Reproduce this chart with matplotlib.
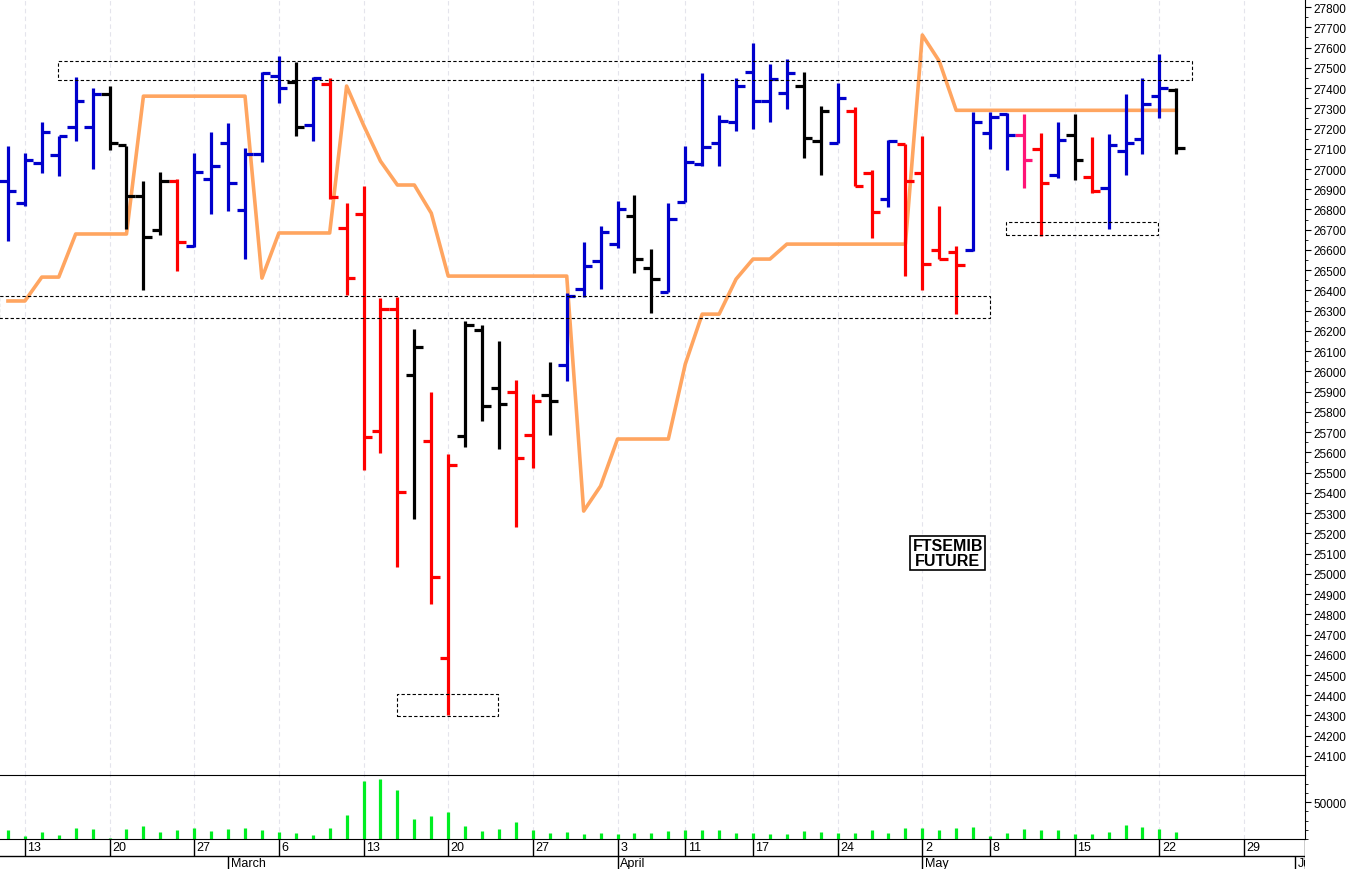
import matplotlib
matplotlib.use("Agg")
import matplotlib.pyplot as plt
from matplotlib.patches import Rectangle
from matplotlib.ticker import MultipleLocator, FixedLocator
import pandas as pd
import numpy as np

plt.rcParams['font.family'] = ['Liberation Sans', 'DejaVu Sans']

opens = [26939,26832,27029,27069,27210,27210,27370,27118,26865,26700,
         26939,26618,26950,27128,26797,27074,27461,27428,27217,27420,
         26708,26780,25708,26306,25983,25658,24582,25682,26205,25918,
         25897,25687,25882,26031,26408,26548,26629,26766,26509,26393,
         26838,27024,27131,27233,27477,27337,27375,27408,27136,27131,
         27288,26978,26851,27123,26980,26601,26591,26602,27176,27270,
         27168,27100,26970,27168,26960,26907,27089,27146,27361,27389]
highs = [27115,27079,27234,27164,27453,27398,27408,27115,26942,26986,
         26950,27079,27184,27227,27102,27477,27560,27530,27457,27449,
         26833,26914,26363,26369,26211,25897,25592,26247,26229,26148,
         25960,25888,26046,26385,26641,26718,26843,26871,26607,26831,
         27115,27472,27266,27452,27625,27518,27543,27480,27312,27423,
         27304,26996,27143,27123,27161,26815,26621,27283,27283,27279,
         27274,27176,27232,27270,27158,27171,27369,27452,27567,27402]
lows = [26642,26815,26980,26967,27136,27000,27095,26703,26404,26675,
        26494,26613,26777,26791,26555,27033,27326,27164,27136,26851,
        26378,25511,25595,25032,25269,24853,24300,25628,25757,25619,
        25233,25524,25687,25951,26367,26405,26609,26484,26291,26390,
        26838,27013,27016,27189,27200,27230,27296,27052,26970,27128,
        26917,26657,26810,26473,26403,26555,26283,26593,27100,26995,
        26907,26671,26957,26945,26882,26706,26970,27075,27250,27075]
closes = [26889,27044,27181,27164,27334,27370,27128,26865,26662,26939,
          26637,26983,27016,26931,27074,27474,27398,27209,27449,26860,
          26462,25676,26306,25403,26121,24986,25538,26229,25829,25839,
          25574,25852,25852,26372,26519,26690,26802,26555,26456,26752,
          27037,27111,27235,27408,27337,27444,27474,27153,27288,27353,
          26917,26789,27139,26942,26530,26555,26525,27234,27257,27168,
          27047,26932,27143,27047,26891,27118,27130,27323,27399,27105]
bar_colors = list("bbbbbbkkkkrbbbbbbkbrrrrrkrrkkkrrkbbbbkkbbbbbbbbkkbrrbrrrrbbbprbkrbbbbk")
stop_line = [26348,26348,26466,26466,26679,26679,26679,26679,27360,27360,
             27360,27360,27360,27360,27360,26461,26684,26684,26684,26684,
             27410,27217,27039,26921,26921,26782,26471,26471,26471,26471,
             26471,26471,26471,26471,25310,25434,25666,25666,25666,25666,
             26036,26283,26283,26456,26555,26555,26629,26629,26629,26629,
             26629,26629,26629,26629,27662,27533,27290,27290,27290,27290,
             27290,27290,27290,27290,27290,27290,27290,27290,27290,27290]
volumes = [19570,13050,17760,14860,21740,21020,11230,20650,23910,17390,
           19570,21740,18840,21020,21740,19570,17760,16310,14860,22470,
           36230,73190,75360,63400,31880,35150,39490,24280,18480,20650,
           28620,19570,16670,17760,15220,16670,15580,16310,16670,18840,
           19570,19930,19570,16670,16670,15220,15580,18480,17760,16670,
           16670,19570,16670,21740,21740,19570,21740,22830,13410,16670,
           20650,19570,19570,15580,15220,17390,25360,22830,20650,18120]
# zones: (start index, end index, low price, high price)
zones = [(2.95, 69.95, 27439, 27533), (-0.5, 57.97, 26264, 26372),
         (22.96, 28.93, 24297, 24406), (58.97, 67.9, 26674, 26738)]

holidays = pd.to_datetime(["2023-04-07", "2023-04-10", "2023-05-01", "2023-06-02"])
days = pd.bdate_range("2023-02-10", "2023-06-20")
days = days[~days.isin(holidays)]
n = len(opens)
x = np.arange(n)

cmap = {'b': '#0000CC', 'r': '#FF0000', 'k': '#000000', 'p': '#FF1477'}
cols = [cmap[c] for c in bar_colors]

W, H = 1352, 870
fig = plt.figure(figsize=(W/100, H/100), dpi=100)
right = 1305 / W
ax = fig.add_axes([0, (H-776)/H, right, 776/H])
axv = fig.add_axes([0, (H-840)/H, right, 64/H], sharex=ax)
axl = fig.add_axes([0, 0, right, 30/H], sharex=ax)

xmin, xmax = -0.47, 76.6
ax.set_xlim(xmin, xmax)

week_pos, week_lab = [], []
month_pos, month_lab = [], []
prev = None
for i, d in enumerate(days):
    if i == 0:
        prev = d
        continue
    if d.isocalendar()[1] != prev.isocalendar()[1]:
        week_pos.append(i); week_lab.append(str(d.day))
    if d.month != prev.month:
        month_pos.append(i); month_lab.append(d.strftime("%B"))
    prev = d
week_pos = [p for p in week_pos if p < xmax]
week_lab = week_lab[:len(week_pos)]
month_pos = [p for p in month_pos if p < xmax]
month_lab = month_lab[:len(month_pos)]

for a in (ax, axv):
    for p in week_pos:
        a.axvline(p, color='#e4e4ec', lw=0.8, ls=(0, (4, 3)), zorder=0)

ax.vlines(x, lows, highs, colors=cols, lw=2.3, zorder=3)
ax.hlines(opens, x - 0.5, x, colors=cols, lw=2.3, zorder=3)
ax.hlines(closes, x, x + 0.5, colors=cols, lw=2.3, zorder=3)
ax.plot(x, stop_line, color='#FFA560', lw=2.6, zorder=2)

for (x0, x1, y0, y1) in zones:
    ax.add_patch(Rectangle((x0, y0), x1 - x0, y1 - y0, fill=False, ec='black',
                           lw=0.8, ls=(0, (3, 2)), zorder=4))

ax.text(55.5, 25103, "FTSEMIB\nFUTURE", ha='center', va='center', fontsize=11.5,
        fontweight='bold', linespacing=0.95,
        bbox=dict(boxstyle='square,pad=0.15', fc='white', ec='black', lw=1.2))

ax.set_ylim(24006, 27840)
ax.yaxis.tick_right()
ax.set_yticks(list(range(24100, 27801, 100)))
ax.yaxis.set_minor_locator(MultipleLocator(50))
ax.tick_params(axis='y', which='major', length=4, labelsize=8.5, pad=2)
ax.tick_params(axis='y', which='minor', length=2)
ax.tick_params(axis='x', bottom=False, labelbottom=False)
for s in ('left', 'top', 'bottom'):
    ax.spines[s].set_visible(False)

axv.vlines(x, 10000, volumes, colors='#00EE22', lw=2.3)
axv.set_ylim(10000, 79700)
axv.yaxis.tick_right()
axv.yaxis.set_major_locator(FixedLocator([50000]))
axv.yaxis.set_minor_locator(FixedLocator([10000, 20000, 30000, 40000, 60000, 70000]))
axv.tick_params(axis='y', which='major', length=4, labelsize=8.5, pad=2)
axv.tick_params(axis='y', which='minor', length=2)
axv.tick_params(axis='x', bottom=False, labelbottom=False)
axv.spines['left'].set_visible(False)

axl.set_ylim(0, 1)
axl.axis('off')
axl.axhline(0.45, color='black', lw=1)
for p, lab in zip(week_pos, week_lab):
    axl.vlines(p, 0.45, 1, color='black', lw=1)
    axl.text(p + 0.15, 0.74, lab, ha='left', va='center', fontsize=9)
for p, lab in zip(month_pos, month_lab):
    axl.vlines(p, 0, 0.45, color='black', lw=1)
    axl.text(p + 0.15, 0.2, lab, ha='left', va='center', fontsize=9, clip_on=True)
axl.vlines(xmax - 0.01, 0, 1, color='black', lw=1)

fig.savefig("out.png", dpi=100)
